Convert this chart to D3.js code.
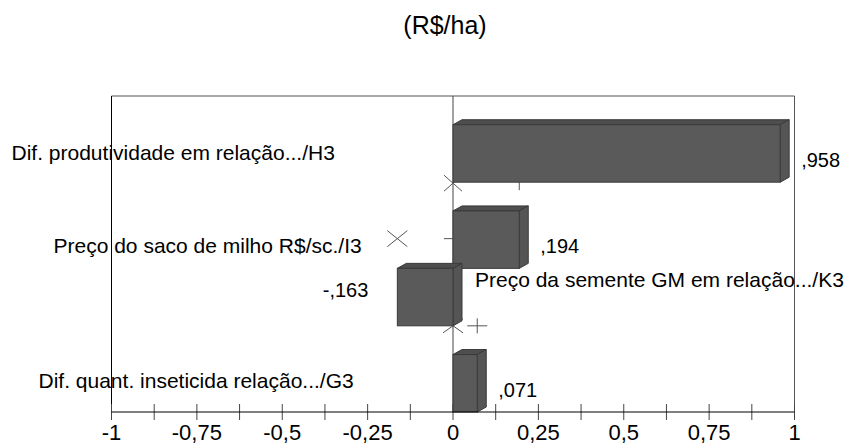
<!DOCTYPE html>
<html>
<head>
<meta charset="utf-8">
<script src="https://cdn.jsdelivr.net/npm/d3@7"></script>
<style>
	body { margin: 0; background: #fff; }
	text { font-family: "Liberation Sans", Arial, sans-serif; fill: #000; }
</style>
</head>
<body>
<div id="grafico"></div>
<script>

// dados do tornado (R$/ha)
let categorias = [
	"Dif. produtividade em relação.../H3",
	"Preço do saco de milho R$/sc./I3",
	"Preço da semente GM em relação.../K3",
	"Dif. quant. inseticida relação.../G3"
];
let valores = [0.958, 0.194, -0.163, 0.071];
let rotulos = [",958", ",194", "-,163", ",071"];
let ticks = [-1, -0.75, -0.5, -0.25, 0, 0.25, 0.5, 0.75, 1];
let tickLabels = ["-1", "-0,75", "-0,5", "-0,25", "0", "0,25", "0,5", "0,75", "1"];

let width = 848,
height = 444;

let svg = d3.select("#grafico")
	.append("svg")
	.attr("width", width)
	.attr("height", height);

let x = d3.scaleLinear()
	.domain([-1, 1])
	.range([111.5, 794.5]);

// cada barra ocupa 2 unidades, cada espaço 1
let y = d3.scaleLinear()
	.domain([0, 11])
	.range([96, 412]);

let gaps = [1, 2, 2, 3];
let barTop = (d, i) => y(gaps[i] + 2 * i);
let barBot = (d, i) => y(gaps[i] + 2 * i + 2);
let barMid = (d, i) => y(gaps[i] + 2 * i + 1);

let depthX = 9, depthY = 5;

// titulo
svg.append("text")
	.attr("x", 445)
	.attr("y", 34)
	.attr("text-anchor", "middle")
	.style("font-size", "25px")
	.text("(R$/ha)");

// moldura
let x0 = x(0);
svg.append("line")
	.attr("x1", x(-1)).attr("x2", x(1))
	.attr("y1", y(0)).attr("y2", y(0))
	.attr("stroke", "#555");
svg.append("line")
	.attr("x1", x(1)).attr("x2", x(1))
	.attr("y1", y(0)).attr("y2", y(11))
	.attr("stroke", "#555");
svg.append("line")
	.attr("x1", x(-1)).attr("x2", x(-1))
	.attr("y1", y(0)).attr("y2", y(11))
	.attr("stroke", "#000");
svg.append("line")
	.attr("x1", x0).attr("x2", x0)
	.attr("y1", y(0)).attr("y2", y(11))
	.attr("stroke", "#444");

// marcadores (x e +)
function cross(cx, cy, rx, ry) {
	return "M" + (cx - rx) + "," + (cy - ry) + "L" + (cx + rx) + "," + (cy + ry) +
		"M" + (cx - rx) + "," + (cy + ry) + "L" + (cx + rx) + "," + (cy - ry);
}
function plus(cx, cy, rx, ry) {
	return "M" + (cx - rx) + "," + cy + "L" + (cx + rx) + "," + cy +
		"M" + cx + "," + (cy - ry) + "L" + cx + "," + (cy + ry);
}
let marks = svg.append("g")
	.attr("stroke", "#555")
	.attr("fill", "none");
marks.append("path").attr("d", cross(x0, barBot(0, 0) + 1, 9, 8));
marks.append("path").attr("d", "M" + x(valores[1]) + "," + barBot(0, 0) + "V" + (barBot(0, 0) + 8));
marks.append("path").attr("d", cross(x(valores[2]), barMid(0, 1) - 1, 10, 8));
marks.append("path").attr("d", "M" + (x0 - 9) + "," + (barMid(0, 1) - 1) + "H" + x0);
marks.append("path").attr("d", cross(x0, barBot(0, 2), 10, 7));
marks.append("path").attr("d", plus(x(valores[3]), barBot(0, 2), 10, 7.5));

// barras 3D
let barras = svg.selectAll(".barra")
	.data(valores)
	.enter()
	.append("g")
	.classed("barra", true)
	.attr("stroke", "#3a3a3a")
	.attr("stroke-width", 1);

// topo
barras.append("path")
	.attr("fill", "#4e4e4e")
	.attr("d", (d, i) => {
		let a = Math.min(x0, x(d)), b = Math.max(x0, x(d)), t = barTop(d, i);
		return "M" + a + "," + t + "L" + (a + depthX) + "," + (t - depthY) +
			"L" + (b + depthX) + "," + (t - depthY) + "L" + b + "," + t + "Z";
	});

// lado
barras.append("path")
	.attr("fill", "#555")
	.attr("d", (d, i) => {
		let b = Math.max(x0, x(d)), t = barTop(d, i), u = barBot(d, i);
		return "M" + b + "," + t + "L" + (b + depthX) + "," + (t - depthY) +
			"L" + (b + depthX) + "," + (u - depthY) + "L" + b + "," + u + "Z";
	});

// frente
barras.append("rect")
	.attr("fill", "#5a5a5a")
	.attr("x", d => Math.min(x0, x(d)))
	.attr("y", barTop)
	.attr("width", d => Math.abs(x(d) - x0))
	.attr("height", (d, i) => barBot(d, i) - barTop(d, i));

// eixo x
let axis = svg.append("g");
axis.selectAll(".tick")
	.data(d3.range(-1, 1.0001, 0.125))
	.enter()
	.append("line")
	.attr("x1", d => x(d)).attr("x2", d => x(d))
	.attr("y1", y(11) - 8).attr("y2", y(11) + 8)
	.attr("stroke", "#444");
axis.append("line")
	.attr("x1", x(-1)).attr("x2", x(1))
	.attr("y1", y(11)).attr("y2", y(11))
	.attr("stroke", "#000");
axis.selectAll(".tl")
	.data(ticks)
	.enter()
	.append("text")
	.attr("x", d => x(d))
	.attr("y", 440)
	.attr("text-anchor", "middle")
	.style("font-size", "22px")
	.text((d, i) => tickLabels[i]);

// rotulos das categorias
let catPos = [
	{ dx: -100, dy: 7 },
	{ dx: -58, dy: 13.5 },
	{ dx: 363.5, dy: -10 },
	{ dx: -73, dy: 5 }
];
svg.selectAll(".cat")
	.data(categorias)
	.enter()
	.append("text")
	.classed("cat", true)
	.attr("x", (d, i) => x(-1) + catPos[i].dx)
	.attr("y", (d, i) => barMid(d, i) + catPos[i].dy)
	.style("font-size", "21px")
	.text(d => d);

// rotulos dos valores
svg.selectAll(".val")
	.data(valores)
	.enter()
	.append("text")
	.classed("val", true)
	.attr("x", d => d >= 0 ? x(d) + depthX + 12 : x(d) - 29)
	.attr("y", (d, i) => barMid(d, i) + (d >= 0 ? 13.5 : 0))
	.attr("text-anchor", d => d >= 0 ? "start" : "end")
	.style("font-size", "20px")
	.text((d, i) => rotulos[i]);

</script>
</body>
</html>
